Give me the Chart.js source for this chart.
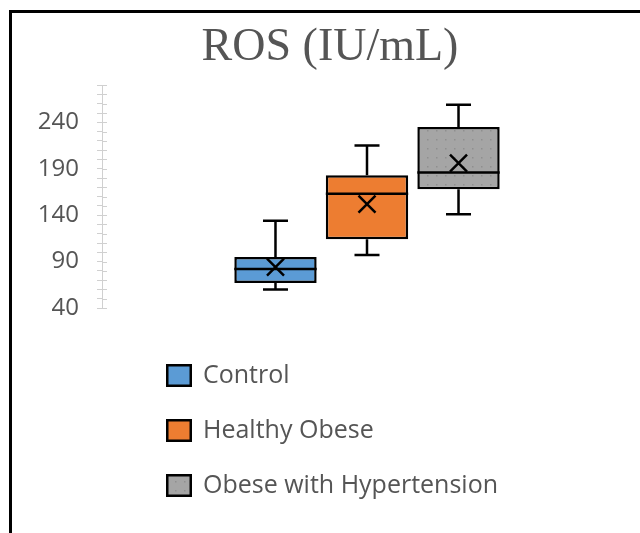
<!DOCTYPE html>
<html>
<head>
<meta charset="utf-8">
<script src="https://cdn.jsdelivr.net/npm/chart.js@4"></script>
<style>
    html, body { margin: 0; padding: 0; background: #fff; overflow: hidden; }
    #frame {
        position: absolute; left: 9px; top: 10px; width: 700px; height: 600px;
        border-top: 3px solid #000; border-left: 3px solid #000; background: #fff;
    }
    #wrap { position: absolute; left: 0; top: 0; width: 640px; height: 533px; }
</style>
</head>
<body>
<div id="frame"></div>
<div id="wrap"><canvas id="rosChart"></canvas></div>
<script>
// -- DATA --
const groups = ['Control', 'Healthy Obese', 'Obese with Hypertension'];
const minVals = [60, 97, 141];
const q1Vals = [67, 114, 168];
const medianVals = [82, 163, 186];
const q3Vals = [95, 183, 235];
const maxVals = [134, 215, 259];
const meanVals = [84, 152, 196];
const yTicks = [40, 90, 140, 190, 240];

const TEXT = '#555555';
const AXIS = '#d0d0d0';

// dotted grey fill like the original
function dotPattern() {
    const tile = document.createElement('canvas');
    tile.width = 9; tile.height = 9;
    const c = tile.getContext('2d');
    c.fillStyle = '#a5a5a5';
    c.fillRect(0, 0, 9, 9);
    c.fillStyle = '#8f8f8f';
    c.fillRect(4, 4, 1.5, 1.5);
    return document.createElement('canvas').getContext('2d').createPattern(tile, 'repeat');
}

const fills = ['#5b9bd5', '#ed7d31', dotPattern()];

// whiskers, median, mean cross
const boxPlugin = {
    id: 'boxParts',
    afterDatasetsDraw(chart) {
        const ctx = chart.ctx;
        const y = chart.scales.y;
        ctx.save();
        ctx.strokeStyle = '#000';
        ctx.lineWidth = 2.5;
        groups.forEach((g, i) => {
            const bar = chart.getDatasetMeta(i).data[0];
            const x = bar.x, half = bar.width / 2;
            const cap = 12.5;
            const yMin = y.getPixelForValue(minVals[i]);
            const yQ1 = y.getPixelForValue(q1Vals[i]);
            const yMed = y.getPixelForValue(medianVals[i]);
            const yQ3 = y.getPixelForValue(q3Vals[i]);
            const yMax = y.getPixelForValue(maxVals[i]);
            const yMean = y.getPixelForValue(meanVals[i]);
            ctx.beginPath();
            ctx.moveTo(x, yQ3); ctx.lineTo(x, yMax);
            ctx.moveTo(x - cap, yMax); ctx.lineTo(x + cap, yMax);
            ctx.moveTo(x, yQ1); ctx.lineTo(x, yMin);
            ctx.moveTo(x - cap, yMin); ctx.lineTo(x + cap, yMin);
            ctx.moveTo(x - half, yMed); ctx.lineTo(x + half, yMed);
            ctx.stroke();
            const m = 8.5;
            ctx.beginPath();
            ctx.moveTo(x - m, yMean - m); ctx.lineTo(x + m, yMean + m);
            ctx.moveTo(x - m, yMean + m); ctx.lineTo(x + m, yMean - m);
            ctx.stroke();
        });
        ctx.restore();
    }
};

// tick marks cross the axis line, draw the inner half
const tickPlugin = {
    id: 'crossTicks',
    afterDraw(chart) {
        const ctx = chart.ctx;
        const y = chart.scales.y;
        ctx.save();
        ctx.strokeStyle = AXIS;
        ctx.lineWidth = 1;
        ctx.beginPath();
        y.ticks.forEach((t, i) => {
            const py = Math.round(y.getPixelForTick(i)) + 0.5;
            ctx.moveTo(y.right, py);
            ctx.lineTo(y.right + 5, py);
        });
        ctx.stroke();
        ctx.restore();
    }
};

// vertical legend below the plot
const legendPlugin = {
    id: 'vLegend',
    afterDraw(chart) {
        const ctx = chart.ctx;
        const area = chart.chartArea;
        const left = area.left + 64;
        let top = area.bottom + 56;
        ctx.save();
        ctx.font = '25px "Open Sans"';
        ctx.textBaseline = 'middle';
        ctx.textAlign = 'left';
        groups.forEach((g, i) => {
            ctx.fillStyle = fills[i];
            ctx.fillRect(left, top, 26, 23);
            ctx.strokeStyle = '#000';
            ctx.lineWidth = 2.5;
            ctx.strokeRect(left + 1.25, top + 1.25, 23.5, 20.5);
            ctx.fillStyle = TEXT;
            ctx.fillText(g, left + 37, top + 12);
            top += 55;
        });
        ctx.restore();
    }
};

const datasets = groups.map((g, i) => ({
    label: g,
    data: [[q1Vals[i], q3Vals[i]]],
    backgroundColor: fills[i],
    borderColor: '#000',
    borderWidth: 2.5,
    borderSkipped: false,
    barPercentage: 0.9,
    categoryPercentage: 0.518
}));

new Chart(document.getElementById('rosChart'), {
    type: 'bar',
    data: { labels: [''], datasets: datasets },
    plugins: [boxPlugin, tickPlugin, legendPlugin],
    options: {
        responsive: true,
        maintainAspectRatio: false,
        animation: false,
        layout: { padding: { left: 28, right: 8, top: 0, bottom: 225 } },
        plugins: {
            legend: { display: false },
            tooltip: { enabled: false },
            title: {
                display: true,
                text: 'ROS (IU/mL)',
                color: TEXT,
                font: { family: '"Liberation Serif", "Times New Roman", serif', size: 46, weight: 'normal' },
                padding: { top: 20, bottom: 10 }
            }
        },
        scales: {
            x: { display: false },
            y: {
                min: 40,
                max: 280,
                afterFit: (scale) => { scale.width = 74; },
                border: { display: true, color: AXIS },
                grid: { drawOnChartArea: false, drawTicks: true, tickLength: 5, color: AXIS },
                ticks: {
                    stepSize: 10,
                    autoSkip: false,
                    padding: 18,
                    color: TEXT,
                    font: { family: '"Open Sans"', size: 24 },
                    callback: (v) => yTicks.includes(v) ? String(v) : ''
                }
            }
        }
    }
});
</script>
</body>
</html>
